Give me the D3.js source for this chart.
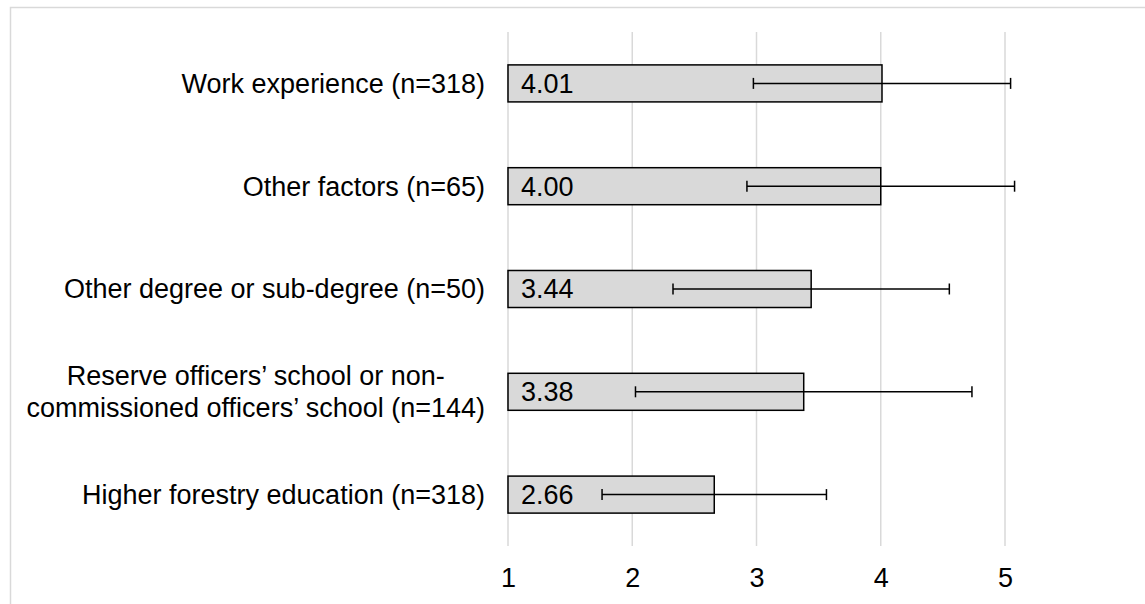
<!DOCTYPE html>
<html>
<head>
<meta charset="utf-8">
<script src="https://cdn.jsdelivr.net/npm/d3@7"></script>
<style>
  html, body { margin: 0; padding: 0; background: #fff; }
  svg { display: block; font-family: "Liberation Sans", Arial, sans-serif; }
</style>
</head>
<body>
<svg id="chart" width="1145" height="604"></svg>
<script>
// Mean ratings with standard deviations, top to bottom
const categories = [
  "Work experience (n=318)",
  "Other factors (n=65)",
  "Other degree or sub-degree (n=50)",
  "Reserve officers\u2019 school or non-|commissioned officers\u2019 school (n=144)",
  "Higher forestry education (n=318)"
];
const means = [4.01, 4.00, 3.44, 3.38, 2.66];
const sds = [1.035, 1.077, 1.112, 1.354, 0.903];
const ticks = [1, 2, 3, 4, 5];

const svg = d3.select("#chart");
const fontSize = 27;

// Outer chart border (extends past the right and bottom edges)
svg.append("rect")
  .attr("x", 10.5).attr("y", 7.5)
  .attr("width", 1300).attr("height", 800)
  .attr("fill", "none").attr("stroke", "#d9d9d9").attr("stroke-width", 1.5);

const x = d3.scaleLinear().domain([1, 5]).range([508, 1005]);
const y = d3.scaleBand().domain(categories).range([32, 546])
  .paddingInner(0.64).paddingOuter(0.32);

// Vertical gridlines
svg.append("g").selectAll("line").data(ticks).join("line")
  .attr("x1", d => x(d)).attr("x2", d => x(d))
  .attr("y1", 32).attr("y2", 546)
  .attr("stroke", "#d9d9d9").attr("stroke-width", 1.5);

// Bottom axis labels
const axis = d3.axisBottom(x).tickValues(ticks).tickFormat(d3.format("d")).tickSize(0).tickPadding(0);
const axisG = svg.append("g").attr("transform", "translate(0,566)").call(axis);
axisG.select(".domain").remove();
axisG.selectAll("text")
  .attr("dy", null).attr("y", 21)
  .attr("font-size", fontSize).attr("font-family", "Liberation Sans, Arial, sans-serif")
  .attr("fill", "#000");

// Bars
const rows = categories.map((c, i) => ({ cat: c, mean: means[i], sd: sds[i] }));
svg.append("g").selectAll("rect").data(rows).join("rect")
  .attr("x", x(1))
  .attr("y", d => y(d.cat))
  .attr("width", d => x(d.mean) - x(1))
  .attr("height", y.bandwidth())
  .attr("fill", "#d9d9d9").attr("stroke", "#000").attr("stroke-width", 1.5);

// Value labels inside the bars
svg.append("g").selectAll("text").data(rows).join("text")
  .attr("x", x(1) + 13)
  .attr("y", d => y(d.cat) + y.bandwidth() / 2)
  .attr("dy", "0.35em")
  .attr("font-size", fontSize).attr("fill", "#000")
  .text(d => d.mean.toFixed(2));

// Error bars (mean ± SD)
const err = svg.append("g").attr("stroke", "#000").attr("stroke-width", 1.5);
rows.forEach(d => {
  const cy = y(d.cat) + y.bandwidth() / 2;
  const lo = x(d.mean - d.sd), hi = x(d.mean + d.sd);
  err.append("line").attr("x1", lo).attr("x2", hi).attr("y1", cy).attr("y2", cy);
  err.append("line").attr("x1", lo).attr("x2", lo).attr("y1", cy - 5.5).attr("y2", cy + 5.5);
  err.append("line").attr("x1", hi).attr("x2", hi).attr("y1", cy - 5.5).attr("y2", cy + 5.5);
});

// Category labels, right-aligned; wrapped labels are centred within their block
const labelRight = 485;
const labels = svg.append("g").attr("font-size", fontSize).attr("fill", "#000");
rows.forEach(d => {
  const lines = d.cat.split("|");
  const cy = y(d.cat) + y.bandwidth() / 2;
  if (lines.length === 1) {
    labels.append("text").attr("x", labelRight).attr("y", cy).attr("dy", "0.35em")
      .attr("text-anchor", "end").text(lines[0]);
  } else {
    const lh = 32;
    const t = labels.append("text").attr("text-anchor", "middle");
    const spans = [];
    lines.forEach((ln, k) => {
      spans.push(t.append("tspan").attr("y", cy + (k - (lines.length - 1) / 2) * lh).attr("dy", "0.35em").text(ln));
    });
    const widest = d3.max(spans, s => s.node().getComputedTextLength());
    const center = labelRight - widest / 2;
    spans.forEach(s => s.attr("x", center));
  }
});
</script>
</body>
</html>
